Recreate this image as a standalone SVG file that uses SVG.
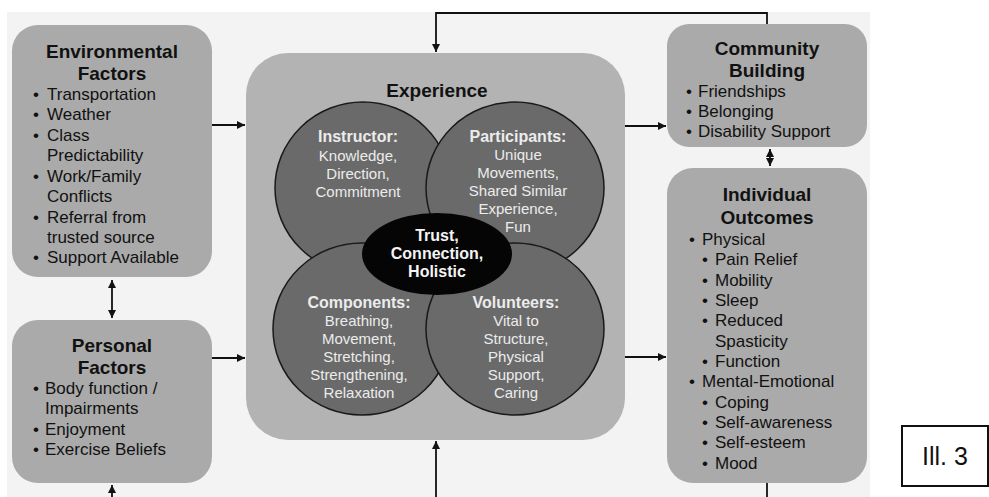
<svg xmlns="http://www.w3.org/2000/svg" width="989" height="497" viewBox="0 0 989 497">
<defs>
<marker id="ah" viewBox="0 0 10 10" refX="10" refY="5" markerWidth="8" markerHeight="8" markerUnits="userSpaceOnUse" orient="auto-start-reverse">
<path d="M0,0 L10,5 L0,10 z" fill="#111"/>
</marker>
<style>
.box{fill:#aaaaaa;}
.exp{fill:#b3b3b3;}
.circ{fill:#6a6a6a;stroke:#1a1a1a;stroke-width:1.5;}
.t{font-family:"Liberation Sans",Arial,sans-serif;fill:#111;}
.h{font-size:19px;font-weight:bold;text-anchor:middle;}
.b{font-size:17px;}
.w{font-family:"Liberation Sans",Arial,sans-serif;fill:#ececec;text-anchor:middle;font-size:15px;}
.wh{font-weight:bold;font-size:16px;}
.ln{fill:none;stroke:#111;stroke-width:1.8;}
</style>
</defs>
<rect width="989" height="497" fill="#ffffff"/>
<rect x="7" y="12" width="863" height="485" fill="#f3f3f3"/>

<g id="connectors">
<path class="ln" d="M212,125 H245" marker-end="url(#ah)"/>
<path class="ln" d="M212,358 H245" marker-end="url(#ah)"/>
<path class="ln" d="M112,280 V318" marker-start="url(#ah)" marker-end="url(#ah)"/>
<path class="ln" d="M112,497 V485" marker-end="url(#ah)"/>
<path class="ln" d="M625,126 H666" marker-end="url(#ah)"/>
<path class="ln" d="M625,357 H666" marker-end="url(#ah)"/>
<path class="ln" d="M770,149 V166" marker-start="url(#ah)" marker-end="url(#ah)"/>
<path class="ln" d="M767,24 V13 H436 V52" marker-end="url(#ah)"/>
<path class="ln" d="M436,497 V441" marker-end="url(#ah)"/>
<path class="ln" d="M767,483 V497"/>
</g>

<g id="environmental">
<rect class="box" x="12" y="25" width="200" height="252" rx="26"/>
<text class="t h" x="112" y="58">Environmental</text>
<text class="t h" x="112" y="80">Factors</text>
<g class="t b">
<text x="33" y="100">•</text><text x="47" y="100">Transportation</text>
<text x="33" y="120">•</text><text x="47" y="120">Weather</text>
<text x="33" y="141">•</text><text x="47" y="141">Class</text>
<text x="47" y="161">Predictability</text>
<text x="33" y="182">•</text><text x="47" y="182">Work/Family</text>
<text x="47" y="202">Conflicts</text>
<text x="33" y="223">•</text><text x="47" y="223">Referral from</text>
<text x="47" y="243">trusted source</text>
<text x="33" y="263">•</text><text x="47" y="263">Support Available</text>
</g>
</g>

<g id="personal">
<rect class="box" x="12" y="320" width="200" height="163" rx="26"/>
<text class="t h" x="112" y="352">Personal</text>
<text class="t h" x="112" y="374">Factors</text>
<g class="t b">
<text x="33" y="394">•</text><text x="45" y="394">Body function /</text>
<text x="45" y="414">Impairments</text>
<text x="33" y="435">•</text><text x="45" y="435">Enjoyment</text>
<text x="33" y="455">•</text><text x="45" y="455">Exercise Beliefs</text>
</g>
</g>

<g id="experience">
<rect class="exp" x="246" y="53" width="379" height="387" rx="42"/>
<text class="t h" x="437" y="97">Experience</text>
</g>

<g id="instructor">
<ellipse class="circ" cx="363" cy="188" rx="88" ry="86"/>
</g>
<g id="participants">
<ellipse class="circ" cx="515" cy="188" rx="89" ry="86"/>
</g>
<g id="components">
<ellipse class="circ" cx="362" cy="329" rx="89" ry="86"/>
</g>
<g id="volunteers">
<ellipse class="circ" cx="515" cy="329" rx="89" ry="86"/>
</g>
<g id="circle-texts">
<text class="w wh" x="358" y="142">Instructor:</text>
<text class="w" x="358" y="161">Knowledge,</text>
<text class="w" x="358" y="179">Direction,</text>
<text class="w" x="358" y="197">Commitment</text>
<text class="w wh" x="518" y="142">Participants:</text>
<text class="w" x="518" y="160">Unique</text>
<text class="w" x="518" y="178">Movements,</text>
<text class="w" x="518" y="196">Shared Similar</text>
<text class="w" x="518" y="214">Experience,</text>
<text class="w" x="518" y="232">Fun</text>
<text class="w wh" x="359" y="308">Components:</text>
<text class="w" x="359" y="326">Breathing,</text>
<text class="w" x="359" y="344">Movement,</text>
<text class="w" x="359" y="362">Stretching,</text>
<text class="w" x="359" y="380">Strengthening,</text>
<text class="w" x="359" y="398">Relaxation</text>
<text class="w wh" x="516" y="308">Volunteers:</text>
<text class="w" x="516" y="326">Vital to</text>
<text class="w" x="516" y="344">Structure,</text>
<text class="w" x="516" y="362">Physical</text>
<text class="w" x="516" y="380">Support,</text>
<text class="w" x="516" y="398">Caring</text>
</g>
<g id="trust">
<ellipse cx="437" cy="254" rx="75" ry="41" fill="#050505"/>
<text class="w wh" x="437" y="241" style="fill:#f4f4f4">Trust,</text>
<text class="w wh" x="437" y="259" style="fill:#f4f4f4">Connection,</text>
<text class="w wh" x="437" y="277" style="fill:#f4f4f4">Holistic</text>
</g>

<g id="community">
<rect class="box" x="667" y="24" width="200" height="123" rx="22"/>
<text class="t h" x="767" y="55">Community</text>
<text class="t h" x="767" y="77">Building</text>
<g class="t b">
<text x="686" y="97">•</text><text x="698" y="97">Friendships</text>
<text x="686" y="117">•</text><text x="698" y="117">Belonging</text>
<text x="686" y="137">•</text><text x="698" y="137">Disability Support</text>
</g>
</g>

<g id="individual">
<rect class="box" x="667" y="168" width="200" height="315" rx="26"/>
<text class="t h" x="767" y="201">Individual</text>
<text class="t h" x="767" y="224">Outcomes</text>
<g class="t b">
<text x="689" y="245">•</text><text x="702" y="245">Physical</text>
<text x="702" y="265">•</text><text x="715" y="265">Pain Relief</text>
<text x="702" y="286">•</text><text x="715" y="286">Mobility</text>
<text x="702" y="306">•</text><text x="715" y="306">Sleep</text>
<text x="702" y="326">•</text><text x="715" y="326">Reduced</text>
<text x="715" y="347">Spasticity</text>
<text x="702" y="367">•</text><text x="715" y="367">Function</text>
<text x="689" y="387">•</text><text x="702" y="387">Mental-Emotional</text>
<text x="702" y="408">•</text><text x="715" y="408">Coping</text>
<text x="702" y="428">•</text><text x="715" y="428">Self-awareness</text>
<text x="702" y="448">•</text><text x="715" y="448">Self-esteem</text>
<text x="702" y="469">•</text><text x="715" y="469">Mood</text>
</g>
</g>

<g id="label">
<rect x="902" y="426" width="86" height="60" fill="#ffffff" stroke="#111" stroke-width="2"/>
<text x="945" y="465" text-anchor="middle" style="font-family:'Liberation Sans',Arial,sans-serif;font-size:25px;fill:#111">Ill. 3</text>
</g>
</svg>
